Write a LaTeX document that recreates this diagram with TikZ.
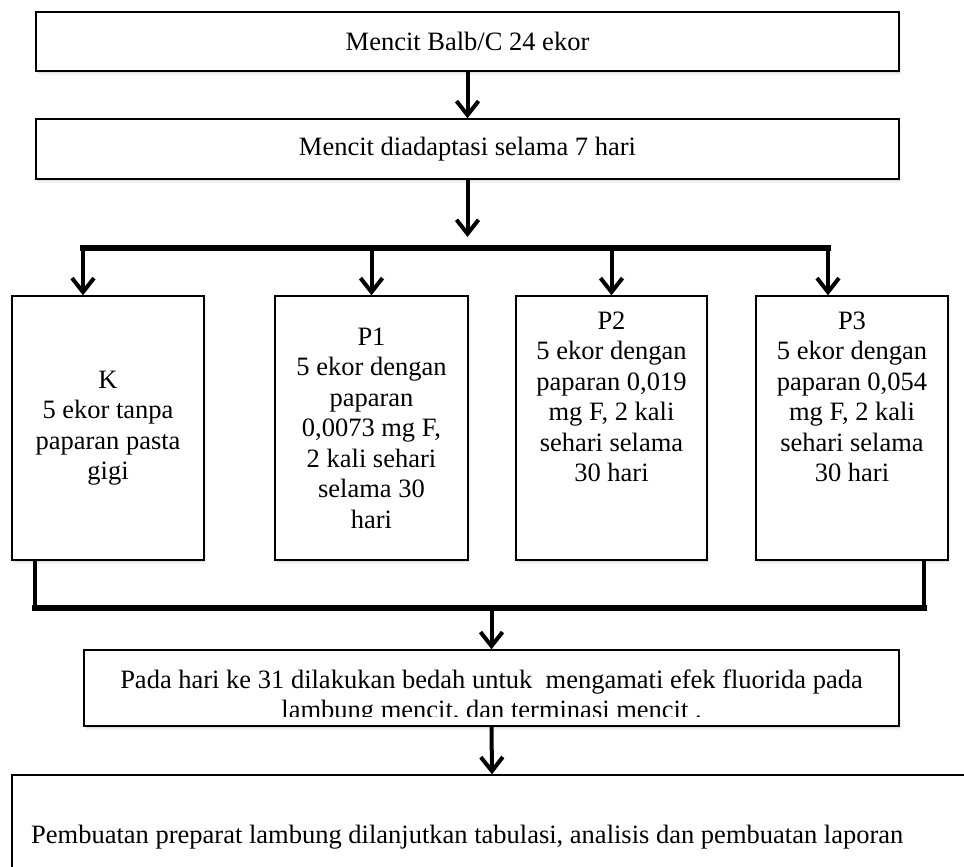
\documentclass[tikz,border=0pt]{standalone}
\usepackage{fontspec}
\setmainfont{Liberation Serif}
\usetikzlibrary{arrows.meta,shadows}
\newcommand\fsz{\fontsize{26.5}{30.5}\selectfont}
\begin{document}
\begin{tikzpicture}[x=1pt,y=-1pt,
  softshadow/.style={drop shadow={shadow xshift=1.5pt, shadow yshift=-4pt, opacity=0.10},
                     drop shadow={shadow xshift=0.5pt, shadow yshift=-2pt, opacity=0.18}},
  box/.style={draw, line width=1.4pt, fill=white, inner sep=0pt, align=center, font=\fsz, softshadow},
  txt/.style={inner sep=0pt, align=center, font=\fsz},
  arr/.style={line width=4pt, -{Straight Barb[length=14pt,width=22pt]}},
  vline/.style={line width=3.5pt},
  hbar/.style={line width=5.5pt}]
\clip (0,0) rectangle (964,867);
\useasboundingbox (0,0) rectangle (964,867);
% top boxes
\node[box, minimum width=863pt, minimum height=59pt] (b1) at (467.5,41.5) {Mencit Balb/C 24 ekor};
\node[box, minimum width=863pt, minimum height=60pt] (b2) at (467.5,149) {Mencit diadaptasi selama 7 hari};
\draw[arr] (b1.south) -- (b2.north);
\coordinate (t2) at (467.5,237);
\draw[arr] (b2.south) -- (t2);
% group boxes
\node[box, minimum width=192pt, minimum height=264pt] (K) at (108,428) {K\\5 ekor tanpa\\paparan pasta\\gigi};
\node[box, minimum width=193pt, minimum height=264pt] (P1) at (371.5,428) {P1\\5 ekor dengan\\paparan\\0,0073 mg F,\\2 kali sehari\\selama 30\\hari};
\node[box, minimum width=191pt, minimum height=264pt] (P2) at (611.5,428) {};
\node[box, minimum width=192pt, minimum height=264pt] (P3) at (852,428) {};
\node[txt] (P2t) at (611.5,397) {P2\\5 ekor dengan\\paparan 0,019\\mg F, 2 kali\\sehari selama\\30 hari};
\node[txt] (P3t) at (852,397) {P3\\5 ekor dengan\\paparan 0,054\\mg F, 2 kali\\sehari selama\\30 hari};
% top distribution bar
\coordinate (bl) at (83,248);
\coordinate (br) at (828,248);
\draw[hbar, line cap=rect, softshadow] (bl) -- (br);
\draw[arr] (bl) -- (bl |- K.north);
\draw[arr] (P1.north |- bl) -- (P1.north);
\draw[arr] (P2.north |- bl) -- (P2.north);
\draw[arr] (br) -- (br |- P3.north);
% bottom collecting bar
\coordinate (kl) at (35,608);
\coordinate (kr) at (924,608);
\draw[vline] (kl |- K.south) -- (kl);
\draw[vline] (kr |- P3.south) -- (kr);
\draw[hbar, line cap=rect, softshadow] (kl) -- (kr);
% result boxes
\node[box, minimum width=815pt, minimum height=76pt] (b5) at (491.5,688) {};
\begin{scope}
\clip (84,650) rectangle (899,716);
\node[txt] (b5t) at (491.5,697) {Pada hari ke 31 dilakukan bedah untuk\ \ mengamati efek fluorida pada\\lambung mencit, dan terminasi mencit .};
\end{scope}
\draw[arr] (b5.north |- kl) -- (b5.north);
\node[box, minimum width=960pt, minimum height=130pt] (b6) at (492,840) {};
\draw[arr] (b5.south) -- (b6.north);
\node[txt, anchor=base west] (b6t) at (31,843) {Pembuatan preparat lambung dilanjutkan tabulasi, analisis dan pembuatan laporan};
\end{tikzpicture}
\end{document}
